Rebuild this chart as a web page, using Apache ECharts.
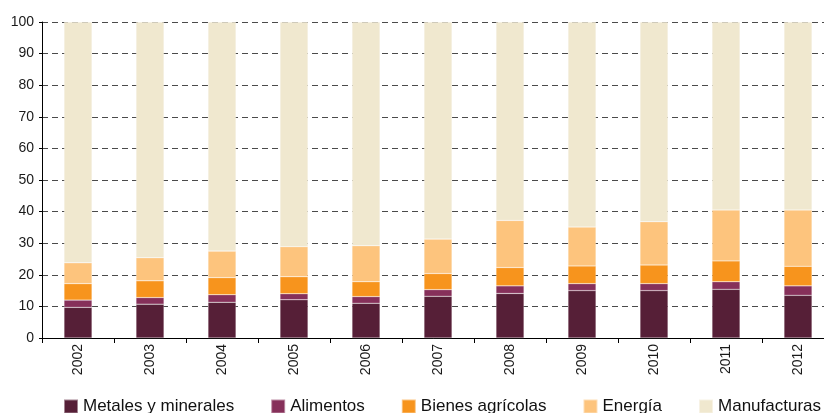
<!DOCTYPE html>
<html>
<head>
<meta charset="utf-8">
<script src="https://cdn.jsdelivr.net/npm/echarts@6/dist/echarts.min.js"></script>
<style>
  html, body { margin: 0; padding: 0; background: #ffffff; }
  #chart { width: 824px; height: 413px; }
</style>
</head>
<body>
<div id="chart"></div>
<script>
// Export composition by product group, percent of total
const years = ['2002', '2003', '2004', '2005', '2006', '2007', '2008', '2009', '2010', '2011', '2012'];
const metales      = [9.7, 10.7, 11.3, 12.1, 11.0, 13.2, 14.1, 15.0, 15.0, 15.4, 13.5];
const alimentos    = [2.3, 2.1, 2.4, 1.9, 2.1, 2.1, 2.4, 2.2, 2.2, 2.4, 3.0];
const agricolas    = [5.2, 5.3, 5.4, 5.4, 4.7, 5.1, 5.8, 5.6, 5.9, 6.6, 6.2];
const energia      = [6.6, 7.3, 8.4, 9.5, 11.4, 10.9, 14.9, 12.3, 13.7, 16.1, 17.8];
const manufacturas = [76.2, 74.6, 72.5, 71.1, 70.8, 68.7, 62.8, 64.9, 63.2, 59.5, 59.5];
const yTicks = { min: 0, max: 100, step: 10 };

const groups = [
  { name: 'Metales y minerales', data: metales, color: '#561f37' },
  { name: 'Alimentos', data: alimentos, color: '#86305a' },
  { name: 'Bienes agrícolas', data: agricolas, color: '#f7941d' },
  { name: 'Energía', data: energia, color: '#fdc47d' },
  { name: 'Manufacturas', data: manufacturas, color: '#f0e8cf' }
];

const font = 'Arial, "Liberation Sans", sans-serif';
const chart = echarts.init(document.getElementById('chart'), null, { renderer: 'canvas' });

chart.setOption({
  animation: false,
  backgroundColor: '#ffffff',
  // the last category runs past the right edge of the canvas
  grid: { left: 42, top: 22, width: 792, height: 316, containLabel: false, outerBoundsMode: 'none' },
  legend: {
    left: 63,
    top: 398,
    width: 800,
    padding: 0,
    icon: 'rect',
    itemWidth: 14,
    itemHeight: 14,
    itemGap: 36,
    textStyle: { fontFamily: font, fontSize: 17, color: '#111111' },
    data: groups.map(g => g.name)
  },
  xAxis: {
    type: 'category',
    data: years,
    axisLine: { lineStyle: { color: '#000000', width: 1 } },
    axisTick: { show: true, length: 5, alignWithLabel: false, lineStyle: { color: '#000000' } },
    axisLabel: { rotate: 90, margin: 6, fontFamily: font, fontSize: 14, color: '#1a1a1a' }
  },
  yAxis: {
    type: 'value',
    min: yTicks.min,
    max: yTicks.max,
    interval: yTicks.step,
    axisLine: { show: true, lineStyle: { color: '#000000', width: 1 } },
    axisTick: { show: true, length: 3, lineStyle: { color: '#000000' } },
    axisLabel: { margin: 8, fontFamily: font, fontSize: 14, color: '#1a1a1a' },
    splitLine: { show: true, lineStyle: { color: '#4a4a4a', width: 1, type: [6, 4] } }
  },
  series: groups.map(g => ({
    name: g.name,
    type: 'bar',
    stack: 'total',
    barWidth: 28,
    data: g.data,
    itemStyle: { color: g.color, borderColor: 'rgba(255,255,255,0.45)', borderWidth: 0.5 }
  }))
});
</script>
</body>
</html>
